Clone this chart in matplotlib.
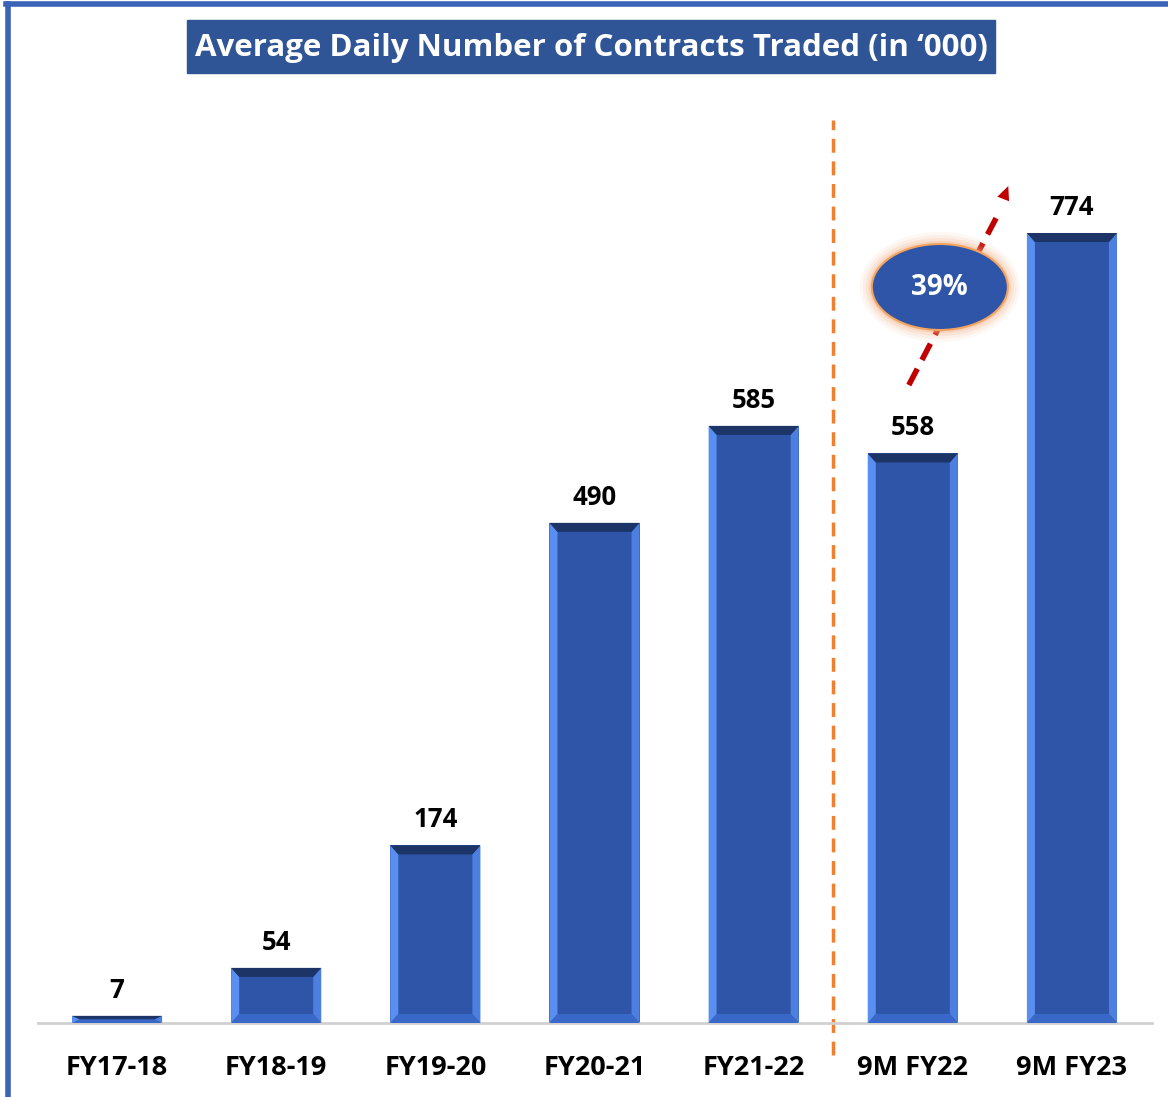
import numpy as np
import matplotlib.pyplot as plt
from matplotlib.patches import Polygon, Ellipse, Rectangle
from matplotlib.lines import Line2D

categories = ['FY17-18', 'FY18-19', 'FY19-20', 'FY20-21', 'FY21-22', '9M FY22', '9M FY23']
values = [7, 54, 174, 490, 585, 558, 774]
growth_label = '39%'
title = 'Average Daily Number of Contracts Traded (in \u2018000)'

bar_color = '#2E55A8'
light_edge = '#5A8FF2'
dark_edge = '#1C3566'
title_bg = '#2F5597'

plt.rcParams['font.family'] = ['Open Sans', 'DejaVu Sans']

fig = plt.figure(figsize=(11.68, 10.97), dpi=100)
W, H = 1168, 1097
ax = fig.add_axes([37.5 / W, (H - 1023) / H, (1151.5 - 37.5) / W, (1023 - 100) / H])

x = np.arange(len(values))
width = 90 / 159
ax.bar(x, values, width=width, color=bar_color, zorder=2)

# bevel: light side strips and dark top band
bx = 8 / 159
by = 9 / 1.0207
for xi, v in zip(x, values):
    l, r = xi - width / 2, xi + width / 2
    b = min(by, v / 2)
    ax.add_patch(Polygon([(l, 0), (l + bx, b), (l + bx, v - b), (l, v)],
                         closed=True, color=light_edge, zorder=3, lw=0))
    ax.add_patch(Polygon([(r, 0), (r - bx, b), (r - bx, v - b), (r, v)],
                         closed=True, color='#4D7FE0', zorder=3, lw=0))
    ax.add_patch(Polygon([(l, v), (l + bx, v - b), (r - bx, v - b), (r, v)],
                         closed=True, color=dark_edge, zorder=3, lw=0))
    ax.add_patch(Polygon([(l, 0), (l + bx, b), (r - bx, b), (r, 0)],
                         closed=True, color='#3A68C8', zorder=3, lw=0))
    ax.text(xi, v + 12, str(v), ha='center', va='bottom', fontsize=18.5,
            fontweight='bold', color='black')

ax.set_xlim(-0.5, len(values) - 0.5)
ax.set_ylim(0, (1023 - 100) / 1.0207)
for s in ['top', 'right', 'left']:
    ax.spines[s].set_visible(False)
ax.spines['bottom'].set_color('#D0D0D0')
ax.spines['bottom'].set_linewidth(2)
ax.set_yticks([])
ax.set_xticks(x)
ax.set_xticklabels(categories, fontsize=19.5, fontweight='bold')
ax.tick_params(axis='x', length=0, pad=23)

# separator between full years and 9M figures
ax.axvline(4.5, ymin=-32 / 923, ymax=(1023 - 120) / 923, color='#F08030',
           lw=2.5, ls=(0, (4, 2.5)), clip_on=False, zorder=1)

# growth arrow from 9M FY22 to 9M FY23
a0 = (4.975, values[5] + 67)
a1 = (5.60, values[6] + 46)
ax.plot([a0[0], a1[0] - 0.065], [a0[1], a1[1] - 28], color='#C00000', lw=4,
        ls=(0, (3.3, 1.8)), zorder=4, solid_capstyle='butt')
ax.annotate('', xy=a1, xytext=(a1[0] - 0.08, a1[1] - 32),
            arrowprops=dict(arrowstyle='-|>,head_width=0.45,head_length=1.0',
                            color='#C00000', lw=0, shrinkA=0, shrinkB=0), zorder=5)

ecx, ecy = 5.17, (1023 - 287) / 1.0207
for k, a in enumerate([0.08, 0.12, 0.18, 0.3]):
    grow = (4 - k) * 3
    ax.add_patch(Ellipse((ecx, ecy), (136 + grow * 2) / 159, (86 + grow * 2) / 1.0207,
                         color='#F4B183', alpha=a, lw=0, zorder=5))
ax.add_patch(Ellipse((ecx, ecy), 136 / 159, 86 / 1.0207, facecolor=bar_color,
                     edgecolor='#F4A460', lw=1.5, zorder=6))
ax.text(ecx, ecy, growth_label, ha='center', va='center', color='white',
        fontsize=20, fontweight='bold', zorder=7)

# title box
fig.patches.append(Rectangle((187 / W, 1 - 73 / H), (995 - 187) / W, (73 - 20) / H,
                             transform=fig.transFigure, color=title_bg, zorder=0))
fig.text(591 / W, 1 - 48 / H, title, ha='center', va='center', color='white',
         fontsize=22.5, fontweight='bold')

# slide frame on top and left
fig.add_artist(Line2D([8 / W, 8 / W], [0, 1 - 4 / H], transform=fig.transFigure,
                      color='#3A63B8', lw=4))
fig.add_artist(Line2D([6 / W, 1], [1 - 4 / H, 1 - 4 / H], transform=fig.transFigure,
                      color='#3A63B8', lw=4))

fig.savefig('out.png', dpi=100)
